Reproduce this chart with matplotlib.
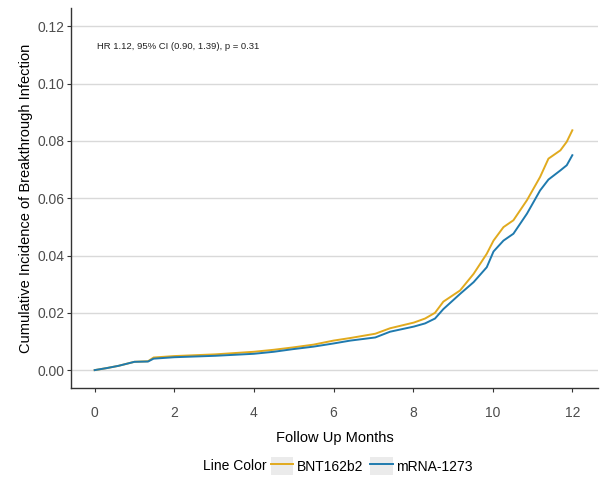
import matplotlib.pyplot as plt
from matplotlib.lines import Line2D
from matplotlib.patches import Rectangle

plt.rcParams['font.family'] = ['Liberation Sans', 'DejaVu Sans']

# ---- data ----
months = [0, 0.3, 0.6, 1.0, 1.34, 1.48, 2.0, 3.03, 4.0, 4.5, 4.97, 5.5, 6.0, 6.42,
          7.05, 7.42, 8.02, 8.3, 8.55, 8.76, 9.18, 9.52, 9.85, 10.02, 10.27, 10.52,
          10.86, 11.19, 11.40, 11.70, 11.86, 12.0]
bnt_inc = [0, 0.0007, 0.0015, 0.0029, 0.0031, 0.0044, 0.0049, 0.0055, 0.0064, 0.0071,
           0.0079, 0.0089, 0.0103, 0.0112, 0.0127, 0.0146, 0.0166, 0.0180, 0.0200, 0.0239,
           0.0278, 0.0336, 0.0406, 0.0452, 0.0499, 0.0523, 0.0593, 0.0674, 0.0738, 0.0767,
           0.0797, 0.0837]
mrna_inc = [0, 0.0007, 0.0015, 0.0029, 0.0030, 0.0040, 0.0045, 0.0050, 0.0057, 0.0064,
            0.0073, 0.0082, 0.0093, 0.0103, 0.0114, 0.0134, 0.0152, 0.0163, 0.0180, 0.0213,
            0.0266, 0.0307, 0.0359, 0.0414, 0.0452, 0.0476, 0.0546, 0.0627, 0.0665, 0.0697,
            0.0715, 0.0750]
series_names = ["BNT162b2", "mRNA-1273"]
colors = ["#E1AA1E", "#1F7AAE"]
x_ticks = [0, 2, 4, 6, 8, 10, 12]
y_ticks = [0.00, 0.02, 0.04, 0.06, 0.08, 0.10, 0.12]
annot = "HR 1.12, 95% CI (0.90, 1.39), p = 0.31"

fig = plt.figure(figsize=(6, 4.84), dpi=100)
ax = fig.add_axes([0.118, 0.198, 0.879, 0.785])

for inc, name, c in zip([bnt_inc, mrna_inc], series_names, colors):
    ax.plot(months, inc, color=c, lw=1.4, label=name)

ax.set_xlim(-0.6, 12.65)
ax.set_ylim(-0.0063, 0.1263)
ax.set_xticks(x_ticks)
ax.set_yticks(y_ticks)
ax.set_yticklabels([f"{v:.2f}" for v in y_ticks])

ax.grid(axis="y", color="#D9D9D9", lw=1.0)
ax.set_axisbelow(True)
for s in ["top", "right"]:
    ax.spines[s].set_visible(False)
for s in ["left", "bottom"]:
    ax.spines[s].set_color("#333333")
    ax.spines[s].set_linewidth(1.0)
ax.tick_params(axis="both", colors="#333333", labelcolor="#4D4D4D", labelsize=10, length=3)
ax.tick_params(axis="x", pad=10)
ax.tick_params(axis="y", pad=1.5)

ax.set_xlabel("Follow Up Months", fontsize=10.5, labelpad=8)
ax.set_ylabel("Cumulative Incidence of Breakthrough Infection", fontsize=10.5, labelpad=3)

ax.text(0.06, 0.1128, annot, fontsize=6.8, color="#222222", ha="left", va="center")

# legend at bottom, title on the left
handles = [(Rectangle((0, 0), 1, 1, facecolor="#EBEBEB", edgecolor="none"),
            Line2D([], [], color=c, lw=1.4)) for c in colors]
fig.text(0.338, 0.037, "Line Color", fontsize=10, ha="left", va="center")
fig.legend(handles, series_names, loc="center left", bbox_to_anchor=(0.452, 0.037),
           ncol=2, frameon=False, fontsize=10, handlelength=1.6, handleheight=1.6,
           handletextpad=0.25, columnspacing=0.5, borderaxespad=0, borderpad=0)

fig.savefig("out.png", dpi=100)
